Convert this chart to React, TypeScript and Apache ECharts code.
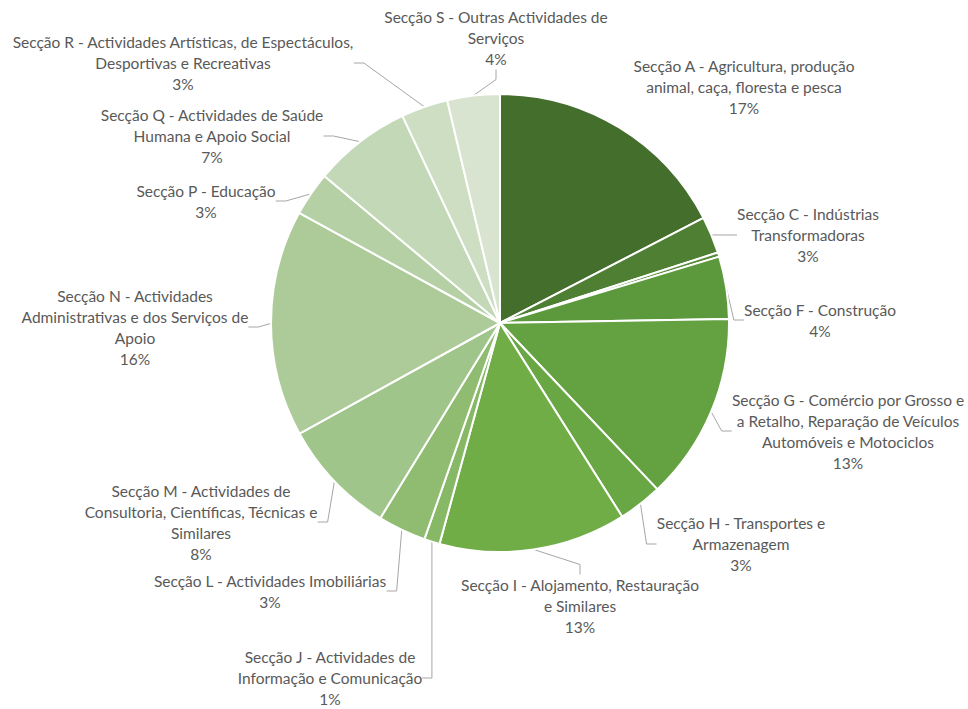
import React, { useEffect, useRef } from "react";
import * as echarts from "echarts";

const categories = [
  "Secção A - Agricultura, produção\nanimal, caça, floresta e pesca",
  "Secção C - Indústrias\nTransformadoras",
  "Secção D",
  "Secção F - Construção",
  "Secção G - Comércio por Grosso e\na Retalho, Reparação de Veículos\nAutomóveis e Motociclos",
  "Secção H - Transportes e\nArmazenagem",
  "Secção I - Alojamento, Restauração\ne Similares",
  "Secção J - Actividades de\nInformação e Comunicação",
  "Secção L - Actividades Imobiliárias",
  "Secção M - Actividades de\nConsultoria, Científicas, Técnicas e\nSimilares",
  "Secção N - Actividades\nAdministrativas e dos Serviços de\nApoio",
  "Secção P - Educação",
  "Secção Q - Actividades de Saúde\nHumana e Apoio Social",
  "Secção R - Actividades Artísticas, de Espectáculos,\nDesportivas e Recreativas",
  "Secção S - Outras Actividades de\nServiços",
];

const values = [17.4, 2.6, 0.3, 4.4, 13.2, 3.1, 13.2, 1.1, 3.4, 8.2, 16.0, 3.1, 6.9, 3.3, 3.7];

const colors = [
  "#446E2B", "#4E7F32", "#558A37", "#5C993C", "#64A141", "#69A744", "#70AD47",
  "#86B865", "#8FBC70", "#A0C58A", "#ADCB98", "#B6D0A5", "#C3D8B6", "#CDDEC3", "#D8E4D0",
];

// label block centres (layout only)
const labelCenters: ([number, number] | null)[] = [
  [744, 87], [808, 235], null, [820, 320], [848, 431], [741, 544], [580, 606],
  [330, 678], [270, 591], [201, 522], [135, 327], [206, 201], [212, 136], [183, 63], [496, 38],
];

// which labels have a leader line
const showLine = [false, true, false, true, true, true, true, true, true, true, true, true, true, true, true];

export default function App() {
  const ref = useRef<HTMLDivElement>(null);
  useEffect(() => {
    document.body.style.margin = "0";
    const chart = echarts.init(ref.current!, null, { renderer: "svg" });
    chart.setOption({
      animation: false,
      backgroundColor: "#ffffff",
      series: [
        {
          type: "pie",
          center: [500, 323],
          radius: 229,
          startAngle: 90,
          clockwise: true,
          percentPrecision: 2,
          avoidLabelOverlap: false,
          itemStyle: { borderColor: "#ffffff", borderWidth: 2 },
          label: {
            show: true,
            position: "outside",
            color: "#595959",
            fontFamily: "Lato, 'Open Sans', sans-serif",
            fontSize: 15.5,
            lineHeight: 21,
            align: "center",
            formatter: (p: any) => `${p.name}\n${Math.round(p.percent)}%`,
          },
          labelLine: {
            show: true,
            length: 10,
            length2: 10,
            lineStyle: { color: "#A6A6A6", width: 1 },
          },
          labelLayout: (params: any) => {
            const c = labelCenters[params.dataIndex];
            if (!c) return {};
            return { x: c[0], y: c[1], align: "center", verticalAlign: "middle" };
          },
          data: categories.map((name, i) => ({
            name,
            value: values[i],
            itemStyle: { color: colors[i] },
            label: labelCenters[i] ? {} : { show: false },
            labelLine: showLine[i] ? {} : { show: false },
          })),
        },
      ],
    });
    return () => chart.dispose();
  }, []);
  return <div ref={ref} style={{ width: 968, height: 709 }} />;
}
